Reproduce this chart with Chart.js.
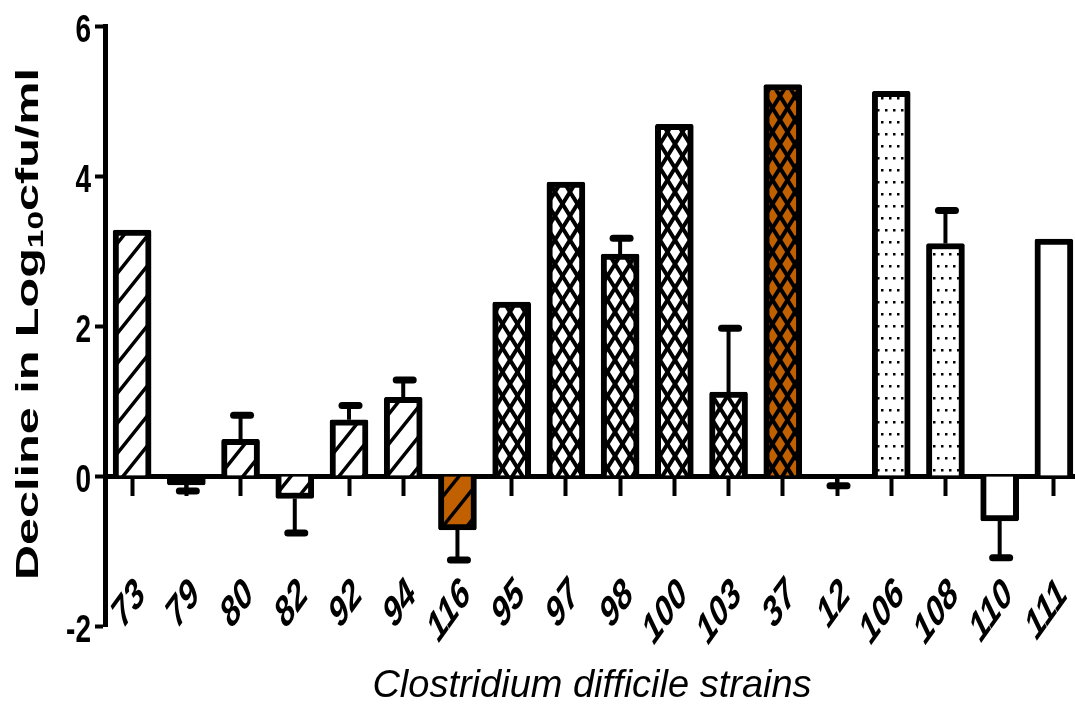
<!DOCTYPE html>
<html>
<head>
<meta charset="utf-8">
<script src="https://cdn.jsdelivr.net/npm/chart.js@4.4.1/dist/chart.umd.min.js"></script>
<style>
  html, body { margin: 0; padding: 0; background: #fff; overflow: hidden; }
  #wrap { width: 1082px; height: 704px; }
</style>
</head>
<body>
<div id="wrap"><canvas id="chart"></canvas></div>
<script>
// strains on the x axis, mean decline and its error
const strains = ['73', '79', '80', '82', '92', '94', '116', '95', '97', '98', '100', '103', '37', '12', '106', '108', '110', '111'];
const decline = [3.28, -0.12, 0.49, -0.30, 0.75, 1.05, -0.72, 2.32, 3.92, 2.96, 4.69, 1.12, 5.22, -0.03, 5.13, 3.10, -0.60, 3.16];
const errors = [0, 0.08, 0.32, 0.46, 0.19, 0.23, 0.40, 0, 0, 0.21, 0, 0.85, 0, 0.10, 0, 0.44, 0.49, 0];
const yTicks = [-2, 0, 2, 4, 6];

const yTitle = ['Decline in Log', '10', 'cfu/ml'];
const xTitle = 'Clostridium difficile strains';

// fill of each bar
const fillKind = ['hatch', 'solid', 'hatch', 'hatch', 'hatch', 'hatch', 'hatchOrange',
  'cross', 'cross', 'cross', 'cross', 'cross', 'crossOrange', 'solid', 'dots', 'dots', 'plain', 'plain'];

const ORANGE = '#c06000';
const STRETCH = 1.4; // text in the plot is drawn taller than wide

function tile(w, h, bg, draw) {
  const c = document.createElement('canvas');
  c.width = w; c.height = h;
  const g = c.getContext('2d');
  g.fillStyle = bg;
  g.fillRect(0, 0, w, h);
  draw(g, w, h);
  return g.createPattern(c, 'repeat');
}

function slashes(g, w, h, lw) {
  g.strokeStyle = '#000';
  g.lineWidth = lw;
  g.beginPath();
  for (let n = 0; n <= 2; n++) {
    g.moveTo(-w, (n + 1) * h);
    g.lineTo((n + 1) * w, -h);
  }
  g.stroke();
}

function backslashes(g, w, h, lw) {
  g.strokeStyle = '#000';
  g.lineWidth = lw;
  g.beginPath();
  for (let n = -1; n <= 1; n++) {
    g.moveTo(-w, -h * (1 + n));
    g.lineTo(2 * w, h * (2 - n));
  }
  g.stroke();
}

const patterns = {
  hatch: tile(24, 30, '#fff', (g, w, h) => slashes(g, w, h, 3.5)),
  hatchOrange: tile(24, 30, ORANGE, (g, w, h) => slashes(g, w, h, 3.5)),
  cross: tile(15, 24, '#fff', (g, w, h) => { slashes(g, w, h, 4); backslashes(g, w, h, 4); }),
  crossOrange: tile(15, 24, ORANGE, (g, w, h) => { slashes(g, w, h, 4); backslashes(g, w, h, 4); }),
  dots: tile(8, 24, '#fff', g => {
    g.fillStyle = '#000';
    g.fillRect(1, 1, 2.5, 2.5);
    g.fillRect(5, 13, 2.5, 2.5);
  }),
  plain: '#fff',
  solid: '#000'
};

// error bars pointing away from zero
const errorBars = {
  id: 'errorBars',
  afterDatasetsDraw(chart) {
    const ctx = chart.ctx;
    const y = chart.scales.y;
    const meta = chart.getDatasetMeta(0);
    ctx.save();
    ctx.strokeStyle = '#000';
    meta.data.forEach((bar, i) => {
      const e = errors[i];
      if (!e) return;
      const v = decline[i];
      const end = v >= 0 ? v + e : v - e;
      const y0 = y.getPixelForValue(v);
      const y1 = y.getPixelForValue(end);
      ctx.lineCap = 'butt';
      ctx.lineWidth = 4;
      ctx.beginPath();
      ctx.moveTo(bar.x, y0);
      ctx.lineTo(bar.x, y1);
      ctx.stroke();
      ctx.lineCap = 'round';
      ctx.lineWidth = 7;
      ctx.beginPath();
      ctx.moveTo(bar.x - 7, y1);
      ctx.lineTo(bar.x + 10, y1);
      ctx.stroke();
    });
    ctx.restore();
  }
};

// tick labels and axis titles
const labels = {
  id: 'labels',
  afterDraw(chart) {
    const ctx = chart.ctx;
    const x = chart.scales.x;
    const y = chart.scales.y;
    ctx.save();
    ctx.fillStyle = '#000';

    ctx.font = 'bold 28px "Liberation Sans", Arial, sans-serif';
    ctx.textAlign = 'right';
    ctx.textBaseline = 'alphabetic';
    y.ticks.forEach(t => {
      const py = y.getPixelForValue(t.value);
      ctx.save();
      ctx.translate(91, py + 16);
      ctx.scale(1, STRETCH);
      ctx.fillText(String(t.value), 0, 0);
      ctx.restore();
    });

    ctx.font = 'italic bold 30px "Liberation Sans", Arial, sans-serif';
    ctx.textBaseline = 'middle';
    strains.forEach((s, i) => {
      const px = x.getPixelForTick(i);
      ctx.save();
      ctx.translate(px + 9, 588);
      ctx.scale(1, STRETCH);
      ctx.rotate(-Math.PI / 4);
      ctx.fillText(s, 0, 0);
      ctx.restore();
    });

    // y title with subscript, stretched along its length
    const big = 'bold 32px "Liberation Sans", Arial, sans-serif';
    const small = 'bold 22px "Liberation Sans", Arial, sans-serif';
    ctx.font = big;
    const w0 = ctx.measureText(yTitle[0]).width;
    const w2 = ctx.measureText(yTitle[2]).width;
    ctx.font = small;
    const w1 = ctx.measureText(yTitle[1]).width;
    const total = w0 + w1 + w2;
    ctx.save();
    ctx.translate(38, 324);
    ctx.rotate(-Math.PI / 2);
    ctx.scale(512 / total, 1);
    ctx.textAlign = 'left';
    ctx.textBaseline = 'alphabetic';
    let cx = -total / 2;
    ctx.font = big;
    ctx.fillText(yTitle[0], cx, 0);
    cx += w0;
    ctx.font = small;
    ctx.fillText(yTitle[1], cx, 5);
    cx += w1;
    ctx.font = big;
    ctx.fillText(yTitle[2], cx, 0);
    ctx.restore();

    ctx.font = 'italic 38px "Liberation Sans", Arial, sans-serif';
    ctx.textAlign = 'center';
    ctx.textBaseline = 'alphabetic';
    ctx.fillText(xTitle, 592, 697);
    ctx.restore();
  }
};

new Chart(document.getElementById('chart'), {
  type: 'bar',
  data: {
    labels: strains,
    datasets: [{
      data: decline,
      backgroundColor: fillKind.map(k => patterns[k]),
      borderColor: '#000',
      borderWidth: 6,
      borderRadius: 2,
      barThickness: 38
    }]
  },
  options: {
    responsive: true,
    maintainAspectRatio: false,
    animation: false,
    devicePixelRatio: 1,
    layout: { padding: { left: 0, right: 1, top: 26, bottom: 78 } },
    plugins: { legend: { display: false }, tooltip: { enabled: false } },
    scales: {
      x: {
        position: { y: 0 },
        z: 1,
        ticks: { display: false },
        grid: { offset: false, drawOnChartArea: false, tickLength: 17, tickWidth: 4, tickColor: '#000' },
        border: { color: '#000', width: 5 }
      },
      y: {
        min: -2,
        max: 6,
        z: 1,
        afterBuildTicks: s => { s.ticks = yTicks.map(v => ({ value: v })); },
        afterFit: s => { s.width = 105; },
        ticks: { display: false },
        grid: { drawOnChartArea: false, tickLength: 10, tickWidth: 4, tickColor: '#000' },
        border: { color: '#000', width: 5 }
      }
    }
  },
  plugins: [errorBars, labels]
});
</script>
</body>
</html>
